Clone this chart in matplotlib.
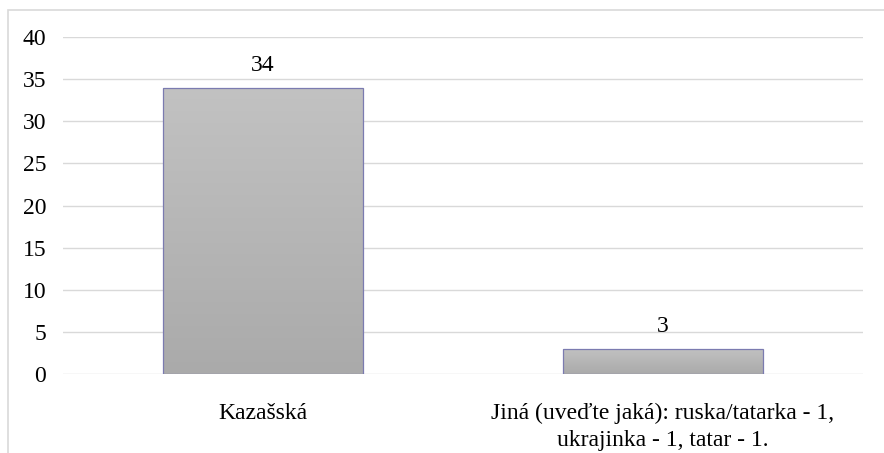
import matplotlib
matplotlib.use("Agg")
import matplotlib.pyplot as plt
import numpy as np
from matplotlib.patches import Rectangle
from matplotlib.colors import LinearSegmentedColormap

categories = ["Kazašská", "Jiná (uveďte jaká): ruska/tatarka - 1,\nukrajinka - 1, tatar - 1."]
values = [34, 3]
yticks = [0, 5, 10, 15, 20, 25, 30, 35, 40]

plt.rcParams['font.family'] = ['Liberation Serif', 'DejaVu Serif']
FS = 17
W, H = 884, 453
fig = plt.figure(figsize=(W/100, H/100), dpi=100)
ax = fig.add_axes([63/W, 1-374/H, 800/W, 337/H])

x = np.arange(len(categories))
bars = ax.bar(x, values, width=0.5, facecolor='none', edgecolor='#7b7bb0', linewidth=0.9, zorder=3)
grad = np.linspace(0, 1, 256).reshape(-1, 1)
cmap = LinearSegmentedColormap.from_list('g', ['#aaaaaa', '#c2c2c2'])
for b, v in zip(bars, values):
    x0, y0, w, h = b.get_x(), b.get_y(), b.get_width(), b.get_height()
    im = ax.imshow(grad, extent=[x0, x0 + w, y0, y0 + h], origin='lower', cmap=cmap,
                   aspect='auto', zorder=2)
    im.set_clip_path(b)
    ax.text(x0 + w/2, v + 1.4, str(v), ha='center', va='bottom', fontsize=FS)

ax.set_xlim(-0.5, 1.5)
ax.set_ylim(0, 40)
ax.set_yticks(yticks)
ax.set_yticklabels([str(t) for t in yticks], fontsize=FS)
ax.set_xticks(x)
ax.set_xticklabels(categories, fontsize=FS, linespacing=1.35)
ax.tick_params(axis='both', length=0)
ax.tick_params(axis='y', pad=12)
ax.tick_params(axis='x', pad=21)
ax.grid(axis='y', color='#d9d9d9', linewidth=1, zorder=0)
for s in ax.spines.values():
    s.set_visible(False)

fig.patches.append(Rectangle((8/W, -0.1), 1.2, 1 - 10/H + 0.1, transform=fig.transFigure,
                             fill=False, edgecolor='#d9d9d9', linewidth=1.2))
fig.savefig('out.png', dpi=100)
